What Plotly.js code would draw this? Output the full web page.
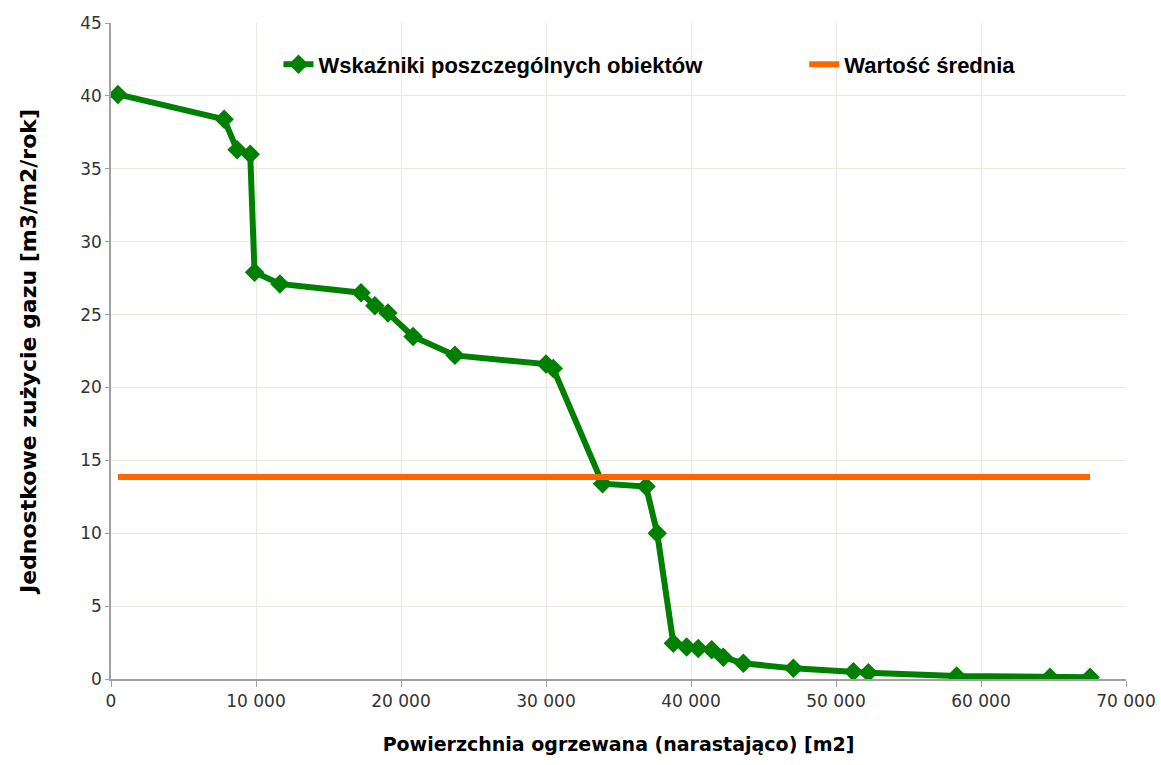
<!DOCTYPE html>
<html>
<head>
<meta charset="utf-8">
<script src="https://cdn.plot.ly/plotly-3.0.1.min.js"></script>
<style>html,body{margin:0;padding:0;background:#fff}#chart{width:1161px;height:765px}</style>
</head>
<body>
<div id="chart"></div>
<script>
const area = [480, 7800, 8700, 9600, 9900, 11650, 17240, 18200, 19100, 20830, 23720, 30000, 30500, 33900, 36900, 37670, 38780, 39700, 40500, 41430, 42230, 43610, 47060, 51200, 52230, 58320, 64760, 67520];
const usage = [40.1, 38.4, 36.3, 36.0, 27.9, 27.1, 26.5, 25.6, 25.1, 23.5, 22.2, 21.6, 21.3, 13.4, 13.2, 10.0, 2.45, 2.2, 2.1, 2.0, 1.5, 1.08, 0.73, 0.5, 0.43, 0.2, 0.12, 0.12];
const meanX = [480, 67520];
const meanY = [13.85, 13.85];
const seriesNames = ['Wskaźniki poszczególnych obiektów', 'Wartość średnia'];
const xTitle = 'Powierzchnia ogrzewana (narastająco) [m2]';
const yTitle = 'Jednostkowe zużycie gazu [m3/m2/rok]';

const legFont = {family: 'Liberation Sans Narrow, Liberation Sans, Arial', size: 22, color: '#000', weight: 'bold'};
const traces = [
  {x: area, y: usage, name: seriesNames[0], type: 'scatter', mode: 'lines+markers', legend: 'legend',
   line: {color: '#008000', width: 6}, marker: {symbol: 'diamond', size: 15, color: '#008000'}},
  {x: meanX, y: meanY, name: seriesNames[1], type: 'scatter', mode: 'lines', legend: 'legend2',
   line: {color: '#ff6600', width: 6}}
];
const tickFont = {family: 'DejaVu Sans, Verdana', size: 17, color: '#333'};
const layout = {
  width: 1161, height: 765,
  margin: {l: 111, r: 35, t: 23, b: 86},
  separators: ', ',
  paper_bgcolor: '#fff', plot_bgcolor: '#fff',
  showlegend: true,
  legend: {x: 0.165, y: 0.937, xanchor: 'left', yanchor: 'middle', font: legFont, bgcolor: 'rgba(0,0,0,0)'},
  legend2: {x: 0.683, y: 0.937, xanchor: 'left', yanchor: 'middle', font: legFont, bgcolor: 'rgba(0,0,0,0)'},
  xaxis: {range: [0, 70000], dtick: 10000, tickformat: ',d', showgrid: true, gridcolor: '#ebe8df',
    zeroline: false, showline: true, linecolor: '#a0a0a0', linewidth: 1.5, ticks: 'outside', ticklen: 6, tickcolor: '#a0a0a0',
    tickfont: tickFont,
    title: {text: xTitle, font: {family: 'DejaVu Sans, Verdana', size: 19, color: '#000', weight: 'bold'}, standoff: 28}},
  yaxis: {range: [0, 45], dtick: 5, showgrid: true, gridcolor: '#ebe8df',
    zeroline: false, showline: true, linecolor: '#a0a0a0', linewidth: 1.5, ticks: 'outside', ticklen: 4, tickcolor: '#a0a0a0',
    tickfont: tickFont,
    title: {text: yTitle, font: {family: 'DejaVu Sans, Verdana', size: 22, color: '#000', weight: 'bold'}, standoff: 38}}
};
Plotly.newPlot('chart', traces, layout, {displayModeBar: false});
</script>
</body>
</html>
